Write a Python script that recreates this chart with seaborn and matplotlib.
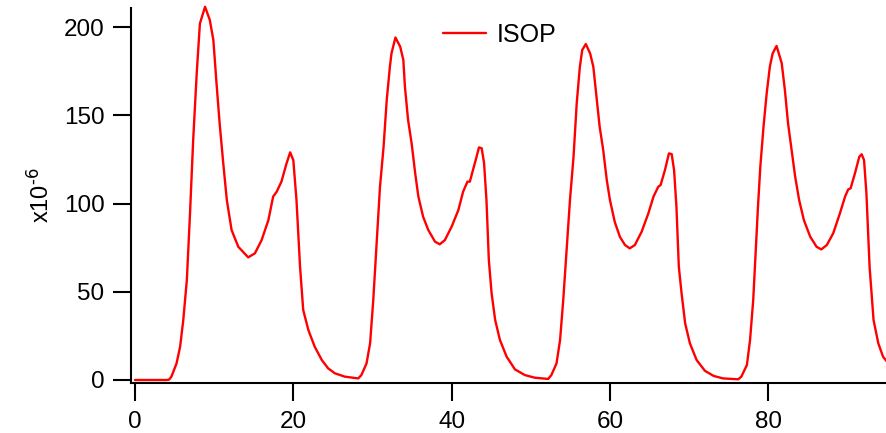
import matplotlib
matplotlib.use("Agg")
import matplotlib.pyplot as plt
import numpy as np
import pandas as pd
import seaborn as sns

# Isoprene mixing ratio (x1e-6) over four simulated days, hour of simulation
day1_hours = [0.0, 1.0, 2.0, 3.0, 4.0, 4.3, 4.6, 5.25, 5.7, 6.1,
              6.55, 6.95, 7.35, 7.8, 8.2, 8.85, 9.45, 9.9, 10.3, 10.7,
              11.15, 11.6, 12.2, 13.05, 14.3, 15.15, 16.0, 16.85, 17.45, 17.9,
              18.5, 19.15, 19.6, 20.0, 20.4, 20.85, 21.25, 21.9, 22.7, 23.6,
              24.4, 25.25, 26.5, 28.2]
day1_isop = [0.0, 0.0, 0.0, 0.0, 0.0, 0.2, 1.9, 9.4, 18.9, 34.0,
             56.7, 94.4, 136.0, 174.0, 202.0, 211.5, 204.0, 192.6, 168.0, 145.0,
             122.8, 102.0, 85.0, 75.5, 69.5, 71.8, 79.3, 90.6, 103.9, 106.7,
             112.4, 122.8, 129.0, 124.6, 102.0, 64.2, 39.7, 28.3, 18.9, 11.3,
             6.6, 3.8, 1.9, 0.9]

day2_hours = [28.6, 29.25, 29.7, 30.1, 30.5, 30.95, 31.4, 31.8, 32.2, 32.4,
              32.9, 33.5, 33.9, 34.1, 34.5, 34.95, 35.4, 35.8, 36.4, 37.05,
              37.9, 38.5, 39.15, 40.0, 40.85, 41.45, 42.0, 42.3, 42.7, 43.15,
              43.45, 43.8, 44.1, 44.4, 44.7, 45.05, 45.5, 46.1, 46.95, 48.0,
              49.25, 50.5, 52.2]
day2_isop = [2.8, 9.4, 20.8, 45.3, 75.5, 109.5, 132.0, 158.6, 177.5, 185.0,
             194.1, 188.9, 181.3, 166.2, 147.3, 134.0, 117.0, 103.9, 92.5, 85.0,
             78.4, 76.9, 79.3, 86.9, 96.3, 106.7, 112.4, 112.4, 119.0, 126.5,
             131.8, 131.3, 122.8, 102.0, 68.0, 49.1, 34.0, 22.7, 13.2, 6.0,
             2.8, 1.3, 0.6]

day3_hours = [52.6, 53.25, 53.7, 54.1, 54.5, 54.95, 55.4, 55.8, 56.2, 56.5,
              56.95, 57.5, 57.9, 58.3, 58.7, 59.15, 59.6, 60.0, 60.6, 61.25,
              61.9, 62.5, 63.15, 64.0, 64.85, 65.5, 66.1, 66.4, 66.95, 67.45,
              67.8, 68.1, 68.4, 68.7, 69.05, 69.5, 70.1, 70.95, 72.0, 73.1,
              74.3, 76.2]
day3_isop = [2.8, 9.4, 22.7, 45.3, 71.8, 102.0, 126.5, 156.7, 177.5, 187.0,
             190.4, 185.0, 177.5, 160.5, 143.5, 130.3, 113.3, 102.0, 89.7, 81.2,
             76.5, 74.6, 76.5, 84.0, 94.4, 103.9, 109.5, 110.5, 119.0, 128.4,
             128.0, 119.0, 98.2, 64.2, 49.1, 32.1, 20.8, 11.3, 5.2, 2.3,
             0.9, 0.4]

day4_hours = [76.6, 77.3, 77.7, 78.1, 78.4, 78.7, 79.0, 79.4, 79.8, 80.2,
              80.55, 81.05, 81.7, 82.1, 82.5, 82.95, 83.4, 83.9, 84.5, 85.3,
              86.1, 86.7, 87.4, 88.2, 89.05, 89.7, 90.1, 90.4, 90.95, 91.5,
              91.8, 92.1, 92.4, 92.8, 93.3, 93.9, 94.5, 95.0]
day4_isop = [1.9, 8.5, 22.7, 45.3, 71.8, 98.2, 121.0, 143.5, 162.4, 177.5,
             185.0, 189.3, 179.5, 164.3, 145.4, 130.3, 115.2, 102.0, 90.6, 81.2,
             75.5, 74.0, 76.5, 83.1, 94.4, 103.9, 108.0, 108.6, 117.1, 126.5,
             127.9, 124.6, 105.8, 64.2, 34.0, 20.8, 13.2, 10.4]

x_ticks = [0, 20, 40, 60, 80]
y_ticks = [0, 50, 100, 150, 200]
series_name = "ISOP"
y_label = r"x10$^{\text{-6}}$"

df = pd.DataFrame({
    "hour": day1_hours + day2_hours + day3_hours + day4_hours,
    series_name: day1_isop + day2_isop + day3_isop + day4_isop,
})

sns.set_style("ticks")
plt.rcParams["font.family"] = ["Liberation Sans", "DejaVu Sans"]
plt.rcParams["mathtext.default"] = "regular"
plt.rcParams["text.color"] = "black"
plt.rcParams["axes.labelcolor"] = "black"

W, H = 887, 433
fig = plt.figure(figsize=(W / 100, H / 100), dpi=100)
ax = fig.add_axes([131 / W, 50 / H, 756 / W, 375 / H])

sns.lineplot(data=df, x="hour", y=series_name, color="#ff0000", linewidth=1.7,
             label=series_name, ax=ax, estimator=None, sort=False)
for line in ax.lines:
    line.set_clip_on(False)

ax.set_xlim(-0.505, 95)
ax.set_ylim(-1.7, 210.8)
ax.set_xticks(x_ticks)
ax.set_yticks(y_ticks)

sns.despine(ax=ax)
for side in ("left", "bottom"):
    ax.spines[side].set_linewidth(1.5)
    ax.spines[side].set_color("black")

ax.tick_params(direction="out", length=13, width=1.5, labelsize=17.5,
               color="black", labelcolor="black")
ax.tick_params(axis="y", pad=6)
ax.tick_params(axis="x", pad=7)

ax.set_xlabel("")
ax.set_ylabel(y_label, fontsize=17, va="center", color="black")
ax.yaxis.set_label_coords((40 - 131) / 756, 0.5)

leg = ax.legend(loc="center left", bbox_to_anchor=(443 / W, 1 - 35 / H),
                bbox_transform=fig.transFigure, frameon=False, fontsize=18,
                handlelength=1.72, handletextpad=0.44, borderpad=0,
                borderaxespad=0)
for t in leg.get_texts():
    t.set_color("black")

fig.savefig("out.png", dpi=100)
